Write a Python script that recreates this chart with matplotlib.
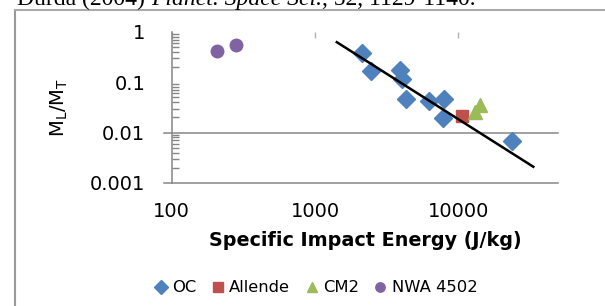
import matplotlib
matplotlib.use("Agg")
import matplotlib.pyplot as plt
import numpy as np
from matplotlib.ticker import LogLocator, NullFormatter, FixedLocator

# dados (energia especifica J/kg, razao de massa)
oc_x = [2120, 2450, 3920, 4080, 4320, 6280, 7950, 7790, 23600]
oc_y = [0.373, 0.170, 0.174, 0.114, 0.046, 0.043, 0.046, 0.0192, 0.0068]
allende_x = [10700]
allende_y = [0.0216]
cm2_x = [13100, 14200]
cm2_y = [0.0256, 0.0352]
nwa_x = [206, 281]
nwa_y = [0.42, 0.545]
fit_x = [1420, 33400]
fit_y = [0.62, 0.0021]

y_ticks = [0.001, 0.01, 0.1, 1]
y_labels = ["0.001", "0.01", "0.1", "1"]
x_ticks = [100, 1000, 10000]
x_labels = ["100", "1000", "10000"]
grid_vals = [0.001, 0.01]

cinza = "#868686"
fig = plt.figure(figsize=(6.05, 3.06), dpi=100)
ax = fig.add_axes([171.7 / 605, 1 - 183 / 306, (558 - 171.7) / 605, (183 - 31.7) / 306])
ax.set_xscale("log")
ax.set_yscale("log")
ax.set_xlim(100, 10 ** 4.696)
ax.set_ylim(0.001, 1)

for v in grid_vals:
    ax.plot([-0.02, 1], [v, v], color=cinza, lw=1.1,
            transform=ax.get_yaxis_transform(), clip_on=False, zorder=1)

ax.plot(oc_x, oc_y, ls="none", marker="D", ms=9, color="#4F81BD", label="OC", zorder=3)
ax.plot(allende_x, allende_y, ls="none", marker="s", ms=9, color="#C0504D", label="Allende", zorder=3)
ax.plot(cm2_x, cm2_y, ls="none", marker="^", ms=10, color="#9BBB59", label="CM2", zorder=3)
ax.plot(nwa_x, nwa_y, ls="none", marker="o", ms=9, color="#8064A2", label="NWA 4502", zorder=3)
ax.plot(fit_x, fit_y, color="black", lw=1.8, zorder=4)

for s in ["top", "right", "bottom"]:
    ax.spines[s].set_visible(False)
ax.spines["left"].set_color(cinza)
ax.spines["left"].set_linewidth(1.1)

ax.yaxis.set_major_locator(FixedLocator(y_ticks))
ax.set_yticklabels(y_labels)
ax.yaxis.set_minor_locator(LogLocator(base=10, subs=np.arange(2, 10)))
ax.yaxis.set_minor_formatter(NullFormatter())
ax.tick_params(axis="y", which="major", length=0, pad=19, labelsize=14)
ax.tick_params(axis="y", which="minor", direction="in", length=5, width=1, color=cinza)

ax.xaxis.set_major_locator(FixedLocator(x_ticks))
ax.set_xticklabels(x_labels)
ax.xaxis.set_minor_locator(FixedLocator([]))
ax.tick_params(axis="x", which="major", top=True, bottom=False, direction="in",
               length=4.5, width=1, color="#b0b0b0", labelsize=14, pad=14)

ax.set_xlabel("Specific Impact Energy (J/kg)", fontsize=13.8, fontweight="bold", labelpad=7)
ax.set_ylabel(r"M$_\mathregular{L}$/M$_\mathregular{T}$", fontsize=14, labelpad=14)

handles, labels = ax.get_legend_handles_labels()
leg = fig.legend(handles, labels, loc="center", bbox_to_anchor=(316 / 605, 1 - 288 / 306),
                 ncol=4, frameon=False, fontsize=11.8, markerscale=0.75,
                 handlelength=0.8, handletextpad=0.3, columnspacing=0.9)

# moldura da figura
fig.add_artist(plt.Line2D([14.5 / 605, 14.5 / 605], [0, 1 - 10 / 306], color="#999999", lw=1.5))
fig.add_artist(plt.Line2D([14.5 / 605, 1], [1 - 10 / 306, 1 - 10 / 306], color="#aaaaaa", lw=1.5))

# legenda de cima (cortada)
fig.canvas.draw()
r = fig.canvas.get_renderer()
x0 = 17 / 605
yb = 1 - 5 / 306
partes = [("Durda (2004) ", "normal"), ("Planet. Space Sci.", "italic"), (", 52, 1129-1140.", "normal")]
for txt, estilo in partes:
    t = fig.text(x0, yb, txt, family="Liberation Serif", fontsize=17, style=estilo, va="baseline")
    bb = t.get_window_extent(renderer=r)
    x0 += bb.width / fig.bbox.width

fig.savefig("out.png", dpi=100)
